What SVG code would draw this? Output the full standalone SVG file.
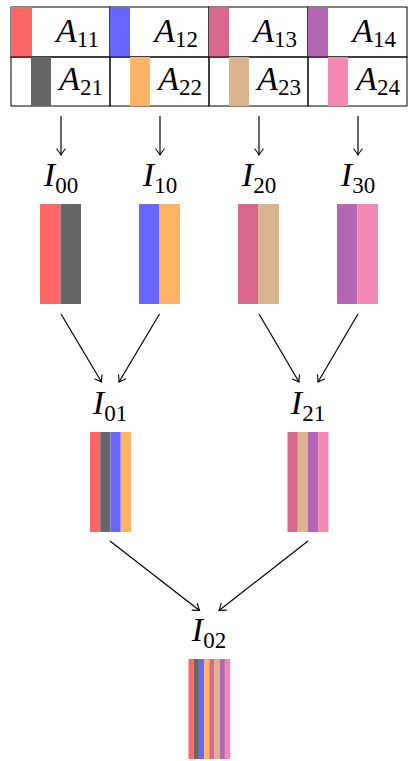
<svg xmlns="http://www.w3.org/2000/svg" width="409" height="761" viewBox="0 0 409 761">
<style>
  .cell{fill:none;stroke:#000;stroke-width:1}
  .lbl{font-family:"Liberation Serif","DejaVu Serif",serif;fill:#000}
  .m{font-style:italic;font-size:34px}
  .s{font-size:23px}
  .c1{fill:#ff6666}.c2{fill:#666666}.c3{fill:#6666ff}.c4{fill:#ffb366}
  .c5{fill:#d9668c}.c6{fill:#d9b38c}.c7{fill:#b366b3}.c8{fill:#f388b5}
  .edge{stroke:#000;stroke-width:1.2;fill:none;marker-end:url(#to)}
</style>
<defs>
  <marker id="to" markerUnits="userSpaceOnUse" viewBox="-8 -6 10 12" refX="0" refY="0" markerWidth="10" markerHeight="12" orient="auto" overflow="visible">
    <path d="M-6,-4.2 Q-2,-1 0,0 Q-2,1 -6,4.2" fill="none" stroke="#000" stroke-width="1.1" stroke-linecap="round"/>
  </marker>
</defs>
<rect width="409" height="761" fill="#fff"/>

<g id="matrix">
  <g id="A11"><rect class="cell" x="11" y="7" width="99" height="50"/><rect class="c1" x="11" y="7" width="21" height="50"/>
    <text class="lbl" x="99" y="42" text-anchor="end"><tspan class="m">A</tspan><tspan class="s" dy="5">11</tspan></text></g>
  <g id="A12"><rect class="cell" x="110" y="7" width="99" height="50"/><rect class="c3" x="110" y="7" width="20" height="50"/>
    <text class="lbl" x="198" y="42" text-anchor="end"><tspan class="m">A</tspan><tspan class="s" dy="5">12</tspan></text></g>
  <g id="A13"><rect class="cell" x="209" y="7" width="99" height="50"/><rect class="c5" x="209" y="7" width="20" height="50"/>
    <text class="lbl" x="297" y="42" text-anchor="end"><tspan class="m">A</tspan><tspan class="s" dy="5">13</tspan></text></g>
  <g id="A14"><rect class="cell" x="308" y="7" width="99" height="50"/><rect class="c7" x="308" y="7" width="20" height="50"/>
    <text class="lbl" x="396" y="42" text-anchor="end"><tspan class="m">A</tspan><tspan class="s" dy="5">14</tspan></text></g>
  <g id="A21"><rect class="cell" x="11" y="57" width="99" height="49"/><rect class="c2" x="31" y="57" width="20" height="49"/>
    <text class="lbl" x="103" y="90" text-anchor="end"><tspan class="m">A</tspan><tspan class="s" dy="5">21</tspan></text></g>
  <g id="A22"><rect class="cell" x="110" y="57" width="99" height="49"/><rect class="c4" x="130" y="57" width="20" height="49"/>
    <text class="lbl" x="202" y="90" text-anchor="end"><tspan class="m">A</tspan><tspan class="s" dy="5">22</tspan></text></g>
  <g id="A23"><rect class="cell" x="209" y="57" width="99" height="49"/><rect class="c6" x="229" y="57" width="20" height="49"/>
    <text class="lbl" x="301" y="90" text-anchor="end"><tspan class="m">A</tspan><tspan class="s" dy="5">23</tspan></text></g>
  <g id="A24"><rect class="cell" x="308" y="57" width="99" height="49"/><rect class="c8" x="328" y="57" width="20" height="49"/>
    <text class="lbl" x="400" y="90" text-anchor="end"><tspan class="m">A</tspan><tspan class="s" dy="5">24</tspan></text></g>
</g>

<g id="I00">
  <text class="lbl" x="61" y="186" text-anchor="middle"><tspan class="m">I</tspan><tspan class="s" dy="7">00</tspan></text>
  <rect class="c1" x="40" y="204" width="20.5" height="100"/><rect class="c2" x="60.5" y="204" width="20.5" height="100"/>
</g>
<g id="I10">
  <text class="lbl" x="160" y="186" text-anchor="middle"><tspan class="m">I</tspan><tspan class="s" dy="7">10</tspan></text>
  <rect class="c3" x="139" y="204" width="20.5" height="100"/><rect class="c4" x="159.5" y="204" width="20.5" height="100"/>
</g>
<g id="I20">
  <text class="lbl" x="259" y="186" text-anchor="middle"><tspan class="m">I</tspan><tspan class="s" dy="7">20</tspan></text>
  <rect class="c5" x="238" y="204" width="20.5" height="100"/><rect class="c6" x="258.5" y="204" width="20.5" height="100"/>
</g>
<g id="I30">
  <text class="lbl" x="358" y="186" text-anchor="middle"><tspan class="m">I</tspan><tspan class="s" dy="7">30</tspan></text>
  <rect class="c7" x="337" y="204" width="20.5" height="100"/><rect class="c8" x="357.5" y="204" width="20.5" height="100"/>
</g>

<g id="I01">
  <text class="lbl" x="110" y="414" text-anchor="middle"><tspan class="m">I</tspan><tspan class="s" dy="7">01</tspan></text>
  <rect class="c1" x="90" y="432" width="10.25" height="100"/><rect class="c2" x="100.25" y="432" width="10.25" height="100"/>
  <rect class="c3" x="110.5" y="432" width="10.25" height="100"/><rect class="c4" x="120.75" y="432" width="10.25" height="100"/>
</g>
<g id="I21">
  <text class="lbl" x="308" y="414" text-anchor="middle"><tspan class="m">I</tspan><tspan class="s" dy="7">21</tspan></text>
  <rect class="c5" x="287.5" y="432" width="10.25" height="100"/><rect class="c6" x="297.75" y="432" width="10.25" height="100"/>
  <rect class="c7" x="308" y="432" width="10.25" height="100"/><rect class="c8" x="318.25" y="432" width="10.25" height="100"/>
</g>

<g id="I02">
  <text class="lbl" x="209" y="641" text-anchor="middle"><tspan class="m">I</tspan><tspan class="s" dy="7">02</tspan></text>
  <rect class="c1" x="188.5" y="659" width="5.2" height="100"/><rect class="c2" x="193.7" y="659" width="5.2" height="100"/>
  <rect class="c3" x="198.9" y="659" width="5.2" height="100"/><rect class="c4" x="204.1" y="659" width="5.2" height="100"/>
  <rect class="c5" x="209.3" y="659" width="5.2" height="100"/><rect class="c6" x="214.5" y="659" width="5.2" height="100"/>
  <rect class="c7" x="219.7" y="659" width="5.2" height="100"/><rect class="c8" x="224.9" y="659" width="5.2" height="100"/>
</g>

<g id="connectors">
  <line class="edge" x1="61" y1="116" x2="61" y2="155"/>
  <line class="edge" x1="160" y1="116" x2="160" y2="155"/>
  <line class="edge" x1="259" y1="116" x2="259" y2="155"/>
  <line class="edge" x1="358" y1="116" x2="358" y2="155"/>
  <line class="edge" x1="61" y1="314" x2="101.5" y2="382"/>
  <line class="edge" x1="159.5" y1="314" x2="119" y2="382"/>
  <line class="edge" x1="259" y1="314" x2="299" y2="382"/>
  <line class="edge" x1="358" y1="314" x2="318" y2="382"/>
  <line class="edge" x1="110" y1="541" x2="199.5" y2="610.5"/>
  <line class="edge" x1="308" y1="541" x2="219" y2="610.5"/>
</g>
</svg>
